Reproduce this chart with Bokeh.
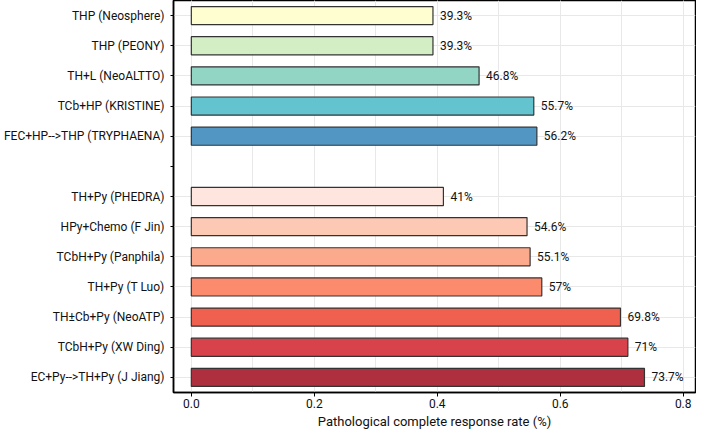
from bokeh.plotting import figure
from bokeh.models import FactorRange, ColumnDataSource, SingleIntervalTicker, PrintfTickFormatter, Range1d
from bokeh.core.properties import value
from bokeh.embed import file_html
from bokeh.resources import INLINE

# Data (top to bottom)
studies = [
    "THP (Neosphere)", "THP (PEONY)", "TH+L (NeoALTTO)", "TCb+HP (KRISTINE)",
    "FEC+HP-->THP (TRYPHAENA)", " ",
    "TH+Py (PHEDRA)", "HPy+Chemo (F Jin)", "TCbH+Py (Panphila)", "TH+Py (T Luo)",
    "TH\u00b1Cb+Py (NeoATP)", "TCbH+Py (XW Ding)", "EC+Py-->TH+Py (J Jiang)",
]
rates = [0.393, 0.393, 0.468, 0.557, 0.562, None, 0.41, 0.546, 0.551, 0.57, 0.698, 0.71, 0.737]
rate_labels = ["39.3%", "39.3%", "46.8%", "55.7%", "56.2%", "", "41%", "54.6%", "55.1%", "57%", "69.8%", "71%", "73.7%"]
colors = ["#fefed0", "#d3edc4", "#93d5c4", "#63c3ce", "#5296c4", None,
          "#fee6df", "#fdc8b4", "#fcaa8d", "#fc8a6c", "#f0604f", "#d8434b", "#ae2f3d"]

bars = [i for i, r in enumerate(rates) if r is not None]
src = ColumnDataSource(dict(
    y=[studies[i] for i in bars],
    x=[rates[i] for i in bars],
    lbl=[rate_labels[i] for i in bars],
    c=[colors[i] for i in bars],
))

FONT = "Roboto"

p = figure(width=696, height=431, output_backend="svg", toolbar_location=None,
           y_range=FactorRange(factors=list(reversed(studies))),
           x_range=Range1d(-0.029, 0.82),
           min_border_left=161, min_border_right=1, min_border_top=0, min_border_bottom=0)

p.hbar(y="y", right="x", left=0, height=0.6, source=src, fill_color="c",
       line_color="#333333", line_width=1.2)
p.text(x="x", y="y", text="lbl", source=src, x_offset=7, text_baseline="middle",
       text_font=value(FONT), text_font_size="12px", text_color="#111111")

p.xaxis.ticker = SingleIntervalTicker(interval=0.2, num_minor_ticks=2)
p.xaxis.formatter = PrintfTickFormatter(format="%.1f")
p.xaxis.minor_tick_line_color = None
p.xaxis.major_tick_in = 0
p.xaxis.major_tick_out = 4
p.xaxis.major_label_standoff = 2
p.xaxis.axis_label = "Pathological complete response rate (%)"
p.xaxis.axis_label_text_font = FONT
p.xaxis.axis_label_text_font_style = "normal"
p.xaxis.axis_label_text_font_size = "13px"
p.xaxis.axis_label_text_color = "#111111"
p.xaxis.axis_label_standoff = 3

for ax in (p.xaxis, p.yaxis):
    ax.major_label_text_font = FONT
    ax.major_label_text_font_size = "12px"
    ax.major_label_text_color = "#111111"
    ax.axis_line_color = "black"
    ax.axis_line_width = 1.5
    ax.major_tick_line_color = "black"

p.yaxis.major_tick_in = 0
p.yaxis.major_tick_out = 3
p.yaxis.major_label_standoff = 6

p.xgrid.grid_line_color = "#e8e8e8"
p.xgrid.minor_grid_line_color = "#e8e8e8"
p.ygrid.grid_line_color = "#e8e8e8"
p.outline_line_color = "black"
p.outline_line_width = 1.5
p.outline_line_alpha = 1

open("out.html", "w").write(file_html(p, INLINE))
